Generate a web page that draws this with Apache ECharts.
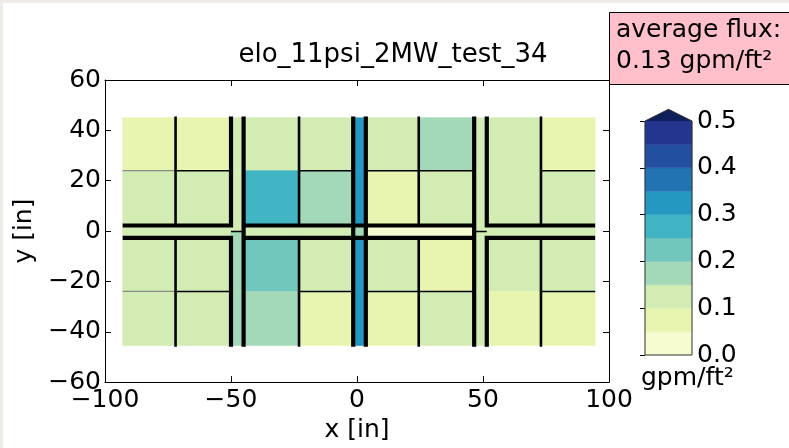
<!DOCTYPE html>
<html>
<head>
<meta charset="utf-8">
<script src="https://cdn.jsdelivr.net/npm/echarts@6/dist/echarts.min.js"></script>
<style>
  html, body { margin: 0; padding: 0; background: #fff; }
  #chart { width: 789px; height: 448px; }
</style>
</head>
<body>
<div id="chart"></div>
<script>
// Panel cell edges (inches): 8 panels across with three narrow strips, split by a horizontal strip
const xEdges = [-93, -72, -50, -45, -23, -1.5, 3.5, 24.5, 46.5, 51.5, 73, 94.5];
const yEdges = [45, 24, 2.2, -0.2, -2.7, -24, -45.5];

// Flux per cell in gpm/ft², rows listed top to bottom, columns left to right
const fluxRow1 = [0.08, 0.08, 0.12, 0.12, 0.12, 0.32, 0.12, 0.17, 0.12, 0.12, 0.08];
const fluxRow2 = [0.12, 0.12, 0.12, 0.27, 0.17, 0.32, 0.08, 0.12, 0.12, 0.12, 0.12];
const fluxRow3 = [0.12, 0.12, 0.12, 0.12, 0.12, 0.17, 0.03, 0.03, 0.12, 0.12, 0.12];
const fluxRow4 = [0.12, 0.12, 0.17, 0.12, 0.12, 0.17, 0.03, 0.03, 0.12, 0.12, 0.12];
const fluxRow5 = [0.12, 0.12, 0.17, 0.22, 0.12, 0.32, 0.12, 0.08, 0.12, 0.12, 0.12];
const fluxRow6 = [0.12, 0.12, 0.17, 0.17, 0.08, 0.32, 0.08, 0.12, 0.12, 0.08, 0.08];
const fluxRows = [fluxRow1, fluxRow2, fluxRow3, fluxRow4, fluxRow5, fluxRow6];

const averageFlux = 0.13;

// Contour levels and their fill colours (YlGnBu), plus the "over" colour
const levels = [0, 0.05, 0.1, 0.15, 0.2, 0.25, 0.3, 0.35, 0.4, 0.45, 0.5];
const levelColors = ['#f7fbd0', '#e8f5b0', '#d2ecb4', '#a3d9b8', '#72c7bd',
                     '#41b5c4', '#2498c1', '#2173b2', '#234fa1', '#24358f'];
const overColor = '#0e1f5c';

// Axis ticks
const xTicks = { min: -100, max: 100, step: 50 };
const yTicks = { min: -60, max: 60, step: 20 };
const cbarTicks = { min: 0, max: 0.5, step: 0.1 };

// Pipe outlines (inches)
const heavyPaths = [
  [[-93, 2.2], [-50, 2.2], [-50, 45.5]],
  [[-93, -2.7], [-50, -2.7], [-50, -46]],
  [[-45, 45.5], [-45, -46]],
  [[-1.5, 45.5], [-1.5, -46]],
  [[3.5, 45.5], [3.5, -46]],
  [[46.5, 45.5], [46.5, -46]],
  [[-45, 2.2], [46.5, 2.2]],
  [[-45, -2.7], [46.5, -2.7]],
  [[94.5, 2.2], [51.5, 2.2], [51.5, 45.5]],
  [[94.5, -2.7], [51.5, -2.7], [51.5, -46]]
];
const mediumPaths = [
  [[-72, 45.5], [-72, 2.2]], [[-72, -2.7], [-72, -46]],
  [[-23, 45.5], [-23, 2.2]], [[-23, -2.7], [-23, -46]],
  [[24.5, 45.5], [24.5, 2.2]], [[24.5, -2.7], [24.5, -46]],
  [[73, 45.5], [73, 2.2]], [[73, -2.7], [73, -46]]
];
const thinPaths = [
  [[-72, 24], [-50, 24]], [[-23, 24], [-1.5, 24]], [[3.5, 24], [46.5, 24]], [[73, 24], [94.5, 24]],
  [[-72, -24], [-50, -24]], [[-23, -24], [-1.5, -24]], [[3.5, -24], [46.5, -24]], [[73, -24], [94.5, -24]],
  [[-50, -0.2], [-45, -0.2]], [[46.5, -0.2], [51.5, -0.2]]
];
const faintPaths = [
  [[-93, 24], [-72, 24]], [[-93, -24], [-72, -24]]
];

const FONT = 'DejaVu Sans';
const FS = 25;
const minus = v => String(v).replace('-', '\u2212');

function bandColor(v) {
  if (v >= levels[levels.length - 1]) return overColor;
  for (let i = levelColors.length - 1; i >= 0; i--) {
    if (v >= levels[i]) return levelColors[i];
  }
  return levelColors[0];
}

const cellData = [];
fluxRows.forEach((row, r) => {
  row.forEach((v, c) => {
    cellData.push([xEdges[c], xEdges[c + 1], yEdges[r + 1], yEdges[r], v]);
  });
});

const bandData = levelColors.map((c, i) => [levels[i], levels[i + 1], i]);

function pathSeries(paths, width, color) {
  return {
    type: 'lines',
    coordinateSystem: 'cartesian2d',
    xAxisIndex: 0,
    yAxisIndex: 0,
    polyline: true,
    silent: true,
    z: 5,
    lineStyle: { color: color, width: width, opacity: 1, curveness: 0, cap: 'butt', join: 'miter' },
    data: paths.map(p => ({ coords: p }))
  };
}

const labelStyle = { color: '#000', fontFamily: FONT, fontSize: FS };
const tickStyle = { color: '#000', width: 1 };

const chart = echarts.init(document.getElementById('chart'), null, { renderer: 'canvas' });

chart.setOption({
  backgroundColor: '#fff',
  animation: false,
  grid: [
    { left: 105, top: 80, width: 504, height: 303, show: false },
    { left: 645, top: 121, width: 47, height: 234, show: false }
  ],
  xAxis: [
    {
      gridIndex: 0, type: 'value', position: 'bottom',
      min: xTicks.min, max: xTicks.max, interval: xTicks.step,
      axisLine: { show: true, onZero: false, lineStyle: tickStyle },
      axisTick: { show: true, inside: true, length: 6, lineStyle: tickStyle },
      axisLabel: Object.assign({ margin: 6, formatter: minus }, labelStyle),
      splitLine: { show: false },
      name: 'x [in]', nameLocation: 'middle', nameGap: 32,
      nameTextStyle: labelStyle
    },
    {
      gridIndex: 0, type: 'value', position: 'top',
      min: xTicks.min, max: xTicks.max, interval: xTicks.step,
      axisLine: { show: true, onZero: false, lineStyle: tickStyle },
      axisTick: { show: true, inside: true, length: 6, lineStyle: tickStyle },
      axisLabel: { show: false },
      splitLine: { show: false }
    },
    {
      gridIndex: 1, type: 'value', min: 0, max: 1, show: false
    }
  ],
  yAxis: [
    {
      gridIndex: 0, type: 'value', position: 'left',
      min: yTicks.min, max: yTicks.max, interval: yTicks.step,
      axisLine: { show: true, onZero: false, lineStyle: tickStyle },
      axisTick: { show: true, inside: true, length: 6, lineStyle: tickStyle },
      axisLabel: Object.assign({ margin: 4, formatter: minus }, labelStyle),
      splitLine: { show: false },
      name: 'y [in]', nameLocation: 'middle', nameGap: 51, nameRotate: 90,
      nameTextStyle: labelStyle
    },
    {
      gridIndex: 0, type: 'value', position: 'right',
      min: yTicks.min, max: yTicks.max, interval: yTicks.step,
      axisLine: { show: true, onZero: false, lineStyle: tickStyle },
      axisTick: { show: true, inside: true, length: 6, lineStyle: tickStyle },
      axisLabel: { show: false },
      splitLine: { show: false }
    },
    {
      gridIndex: 1, type: 'value', position: 'right',
      min: cbarTicks.min, max: cbarTicks.max, interval: cbarTicks.step,
      axisLine: { show: false },
      axisTick: { show: true, inside: true, length: 5, lineStyle: tickStyle },
      axisLabel: Object.assign({ margin: 5, formatter: v => v.toFixed(1) }, labelStyle),
      splitLine: { show: false }
    }
  ],
  series: [
    {
      type: 'custom',
      xAxisIndex: 0, yAxisIndex: 0,
      silent: true, z: 2,
      data: cellData,
      encode: { x: [0, 1], y: [2, 3] },
      renderItem: function (params, api) {
        const a = api.coord([api.value(0), api.value(3)]);
        const b = api.coord([api.value(1), api.value(2)]);
        const col = bandColor(api.value(4));
        return {
          type: 'rect',
          shape: { x: a[0], y: a[1], width: b[0] - a[0], height: b[1] - a[1] },
          style: { fill: col, stroke: col, lineWidth: 0.6 }
        };
      }
    },
    pathSeries(faintPaths, 1.2, '#8a8a8a'),
    pathSeries(thinPaths, 1.5, '#000'),
    pathSeries(mediumPaths, 2.6, '#000'),
    pathSeries(heavyPaths, 4.2, '#000'),
    {
      type: 'custom',
      xAxisIndex: 2, yAxisIndex: 2,
      silent: true, z: 2,
      data: bandData,
      renderItem: function (params, api) {
        const a = api.coord([0, api.value(1)]);
        const b = api.coord([1, api.value(0)]);
        const col = levelColors[api.value(2)];
        return {
          type: 'rect',
          shape: { x: a[0], y: a[1], width: b[0] - a[0], height: b[1] - a[1] },
          style: { fill: col, stroke: col, lineWidth: 0.5 }
        };
      }
    },
    {
      // colour bar "over" extension and outline
      type: 'custom',
      xAxisIndex: 2, yAxisIndex: 2,
      silent: true, z: 3,
      data: [[cbarTicks.min, cbarTicks.max]],
      renderItem: function (params, api) {
        const lo = api.value(0), hi = api.value(1);
        const tip = hi + (hi - lo) * 0.05;
        const bl = api.coord([0, lo]), br = api.coord([1, lo]);
        const tl = api.coord([0, hi]), tr = api.coord([1, hi]);
        const apex = api.coord([0.5, tip]);
        return {
          type: 'group',
          children: [
            {
              type: 'polygon',
              shape: { points: [tl, tr, apex] },
              style: { fill: overColor }
            },
            {
              type: 'polygon',
              shape: { points: [bl, br, tr, apex, tl] },
              style: { fill: 'none', stroke: '#333', lineWidth: 1 }
            }
          ]
        };
      }
    }
  ],
  graphic: [
    { type: 'rect', silent: true, shape: { x: 0, y: 0, width: 789, height: 3 }, style: { fill: '#efece7' } },
    { type: 'rect', silent: true, shape: { x: 0, y: 0, width: 3, height: 448 }, style: { fill: '#efece7' } },
    {
      type: 'text', silent: true,
      style: { text: 'elo_11psi_2MW_test_34', x: 393, y: 55, textAlign: 'center', textVerticalAlign: 'middle',
               font: '26px "' + FONT + '"', fill: '#000' }
    },
    {
      type: 'text', silent: true,
      style: { text: 'gpm/ft\u00b2', x: 641, y: 378, textAlign: 'left', textVerticalAlign: 'middle',
               font: FS + 'px "' + FONT + '"', fill: '#000' }
    },
    {
      type: 'rect', silent: true, z: 10,
      shape: { x: 609.5, y: 12.5, width: 200, height: 72 },
      style: { fill: '#ffc0cb', stroke: '#000', lineWidth: 1 }
    },
    {
      type: 'text', silent: true, z: 11,
      style: { text: 'average flux:', x: 616, y: 30, textAlign: 'left', textVerticalAlign: 'middle',
               font: FS + 'px "' + FONT + '"', fill: '#000' }
    },
    {
      type: 'text', silent: true, z: 11,
      style: { text: averageFlux.toFixed(2) + ' gpm/ft\u00b2', x: 616, y: 61, textAlign: 'left', textVerticalAlign: 'middle',
               font: FS + 'px "' + FONT + '"', fill: '#000' }
    }
  ]
});
</script>
</body>
</html>
